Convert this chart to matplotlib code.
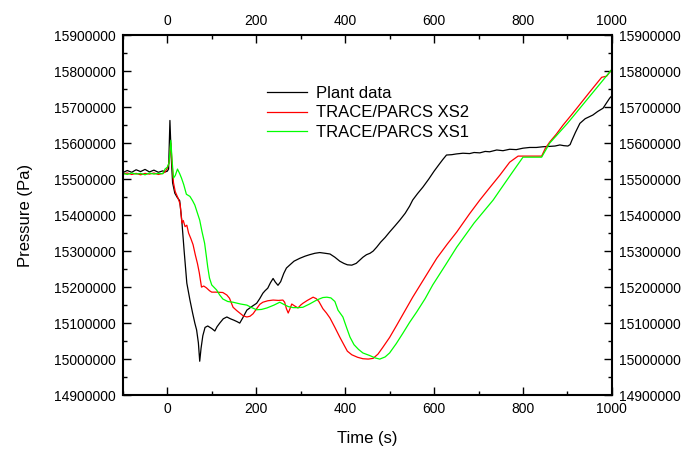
import matplotlib
matplotlib.use("Agg")
import matplotlib.pyplot as plt
from matplotlib.ticker import MultipleLocator, FuncFormatter

plt.rcParams['font.family'] = ['Liberation Sans', 'DejaVu Sans']

# Plant data
t_plant = [-100, -90, -80, -70, -60, -50, -40, -30, -20, -10, -5, 0, 3, 6, 9, 12,
           17, 22, 28, 33, 38, 44, 51, 57, 62, 66, 70, 73, 76, 80, 85, 91, 100, 107,
           112, 118, 126, 134, 142, 150, 157, 163, 170, 179, 190, 201, 208, 215,
           220, 226, 232, 238, 243, 249, 255, 262, 268, 276, 285, 298, 310, 320,
           332, 343, 355, 366, 377, 388, 397, 405, 415, 425, 433, 440, 448, 456,
           463, 471, 480, 490, 500, 512, 523, 535, 545, 552, 563, 575, 588, 600,
           612, 620, 628, 640, 650, 665, 680, 690, 703, 715, 725, 741, 755, 770,
           785, 800, 815, 830, 845, 860, 872, 883, 892, 901, 906, 910, 918, 928,
           940, 957, 968, 980, 988, 995, 1000]
p_plant = [15518000, 15524000, 15519000, 15526000, 15521000, 15527000, 15520000,
           15525000, 15519000, 15523000, 15520000, 15522000, 15528000, 15663000,
           15560000, 15490000, 15461000, 15450000, 15440000, 15380000, 15300000,
           15211000, 15164000, 15128000, 15100000, 15081000, 15045000, 14994000,
           15030000, 15065000, 15088000, 15092000, 15085000, 15078000, 15090000,
           15100000, 15112000, 15117000, 15112000, 15108000, 15104000, 15100000,
           15115000, 15136000, 15146000, 15155000, 15168000, 15183000, 15190000,
           15197000, 15212000, 15224000, 15214000, 15205000, 15215000, 15238000,
           15253000, 15262000, 15272000, 15280000, 15286000, 15290000, 15294000,
           15296000, 15294000, 15292000, 15283000, 15272000, 15266000, 15262000,
           15261000, 15266000, 15275000, 15283000, 15290000, 15294000, 15300000,
           15311000, 15325000, 15338000, 15353000, 15370000, 15386000, 15405000,
           15425000, 15442000, 15460000, 15478000, 15500000, 15522000, 15542000,
           15555000, 15567000, 15568000, 15570000, 15572000, 15571000, 15574000,
           15573000, 15577000, 15576000, 15581000, 15579000, 15583000, 15582000,
           15586000, 15588000, 15588000, 15590000, 15591000, 15592000, 15595000,
           15593000, 15592000, 15596000, 15608000, 15630000, 15655000, 15668000,
           15678000, 15688000, 15697000, 15712000, 15725000, 15732000]

# TRACE/PARCS XS2
t_xs2 = [-100, -90, -80, -70, -60, -50, -40, -30, -20, -10, -5, 0, 4, 8, 11, 14,
         18, 24, 29, 33, 36, 40, 44, 48, 53, 58, 63, 68, 72, 77, 82, 88, 95, 100,
         110, 125, 134, 140, 148, 156, 163, 171, 179, 186, 193, 201, 208, 215,
         226, 238, 250, 260, 264, 268, 272, 276, 280, 286, 294, 300, 305, 315,
         328, 335, 341, 350, 358, 366, 377, 388, 398, 405, 415, 428, 440, 452,
         463, 474, 485, 500, 516, 534, 552, 580, 606, 630, 651, 680, 703, 725,
         748, 770, 780, 789, 842, 850, 860, 875, 890, 910, 923, 950, 977, 988, 1000]
p_xs2 = [15514000, 15517000, 15513000, 15516000, 15512000, 15516000, 15514000,
         15517000, 15513000, 15516000, 15520000, 15530000, 15545000, 15600000,
         15540000, 15490000, 15465000, 15448000, 15430000, 15378000, 15385000,
         15368000, 15372000, 15350000, 15335000, 15318000, 15290000, 15265000,
         15240000, 15200000, 15203000, 15198000, 15190000, 15186000, 15186000,
         15185000, 15178000, 15169000, 15144000, 15135000, 15128000, 15120000,
         15117000, 15119000, 15126000, 15140000, 15152000, 15158000, 15162000,
         15164000, 15163000, 15164000, 15158000, 15140000, 15128000, 15140000,
         15153000, 15148000, 15142000, 15150000, 15155000, 15163000, 15172000,
         15168000, 15160000, 15140000, 15128000, 15114000, 15088000, 15061000,
         15038000, 15022000, 15012000, 15005000, 15001000, 15000000, 15002000,
         15014000, 15033000, 15060000, 15094000, 15133000, 15172000, 15228000,
         15280000, 15320000, 15353000, 15404000, 15442000, 15476000, 15511000,
         15547000, 15556000, 15564000, 15564000, 15585000, 15603000, 15625000,
         15650000, 15680000, 15700000, 15742000, 15783000, 15786000, 15805000]

# TRACE/PARCS XS1
t_xs1 = [-100, -90, -80, -70, -60, -50, -40, -30, -20, -10, -5, 0, 4, 8, 11, 14,
         18, 23, 28, 32, 37, 43, 51, 57, 62, 68, 73, 78, 84, 88, 91, 95, 100, 111,
         118, 125, 136, 148, 165, 179, 190, 201, 212, 224, 240, 253, 262, 272,
         283, 295, 305, 320, 336, 350, 359, 368, 377, 384, 395, 404, 411, 420,
         430, 440, 455, 468, 478, 490, 500, 515, 530, 545, 561, 580, 597, 625,
         651, 690, 733, 748, 775, 800, 842, 860, 900, 950, 1000]
p_xs1 = [15516000, 15513000, 15517000, 15514000, 15516000, 15512000, 15517000,
         15514000, 15516000, 15515000, 15528000, 15533000, 15545000, 15608000,
         15550000, 15503000, 15510000, 15528000, 15515000, 15503000, 15485000,
         15458000, 15452000, 15440000, 15428000, 15405000, 15386000, 15355000,
         15322000, 15285000, 15256000, 15225000, 15206000, 15192000, 15178000,
         15167000, 15160000, 15158000, 15153000, 15150000, 15143000, 15137000,
         15138000, 15142000, 15150000, 15158000, 15152000, 15146000, 15143000,
         15143000, 15144000, 15153000, 15164000, 15171000, 15172000, 15170000,
         15160000, 15136000, 15117000, 15085000, 15061000, 15040000, 15027000,
         15017000, 15010000, 15003000, 15000000, 15006000, 15017000, 15043000,
         15072000, 15102000, 15131000, 15168000, 15206000, 15260000, 15311000,
         15378000, 15442000, 15469000, 15517000, 15561000, 15561000, 15600000,
         15655000, 15730000, 15805000]

fig = plt.figure(figsize=(6.86, 4.51), dpi=100)
ax = fig.add_axes([0.179, 0.124, 0.713, 0.798])

ax.plot(t_plant, p_plant, color='black', lw=0.9, label='Plant data')
ax.plot(t_xs2, p_xs2, color='#ff0000', lw=0.9, label='TRACE/PARCS XS2')
ax.plot(t_xs1, p_xs1, color='#00ff00', lw=0.9, label='TRACE/PARCS XS1')

ax.set_xlim(-100, 1000)
ax.set_ylim(14900000, 15900000)
ax.xaxis.set_major_locator(MultipleLocator(200))
ax.xaxis.set_minor_locator(MultipleLocator(100))
ax.yaxis.set_major_locator(MultipleLocator(100000))
ax.yaxis.set_minor_locator(MultipleLocator(50000))
ax.yaxis.set_major_formatter(FuncFormatter(lambda v, pos: '%d' % v))

# ticks on all four sides, pointing in
ax.tick_params(which='both', direction='in', top=True, right=True,
               labeltop=True, labelright=True, labelsize=10, width=1)
ax.tick_params(which='major', length=6, pad=5)
ax.tick_params(which='minor', length=3)
for s in ax.spines.values():
    s.set_linewidth(1.5)

ax.set_xlabel('Time (s)', fontsize=12, labelpad=11)
ax.set_ylabel('Pressure (Pa)', fontsize=12, labelpad=15)

ax.legend(loc='upper left', bbox_to_anchor=(0.265, 0.9), frameon=False,
          fontsize=12, handlelength=2.4, handletextpad=0.5, labelspacing=0.25)

fig.savefig('out.png', dpi=100)
